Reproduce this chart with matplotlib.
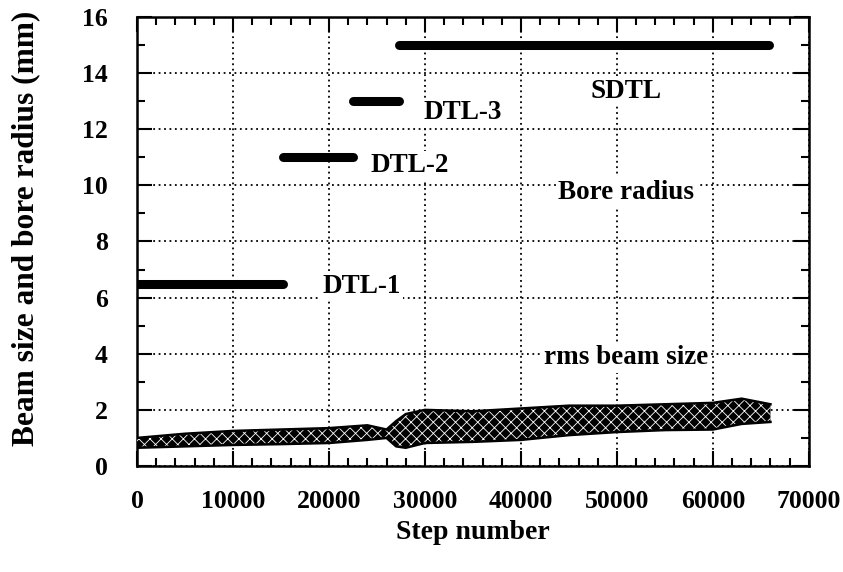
import matplotlib.pyplot as plt
from matplotlib.ticker import MultipleLocator

# bore radius per section: (start step, end step, radius mm)
sections = ["DTL-1", "DTL-2", "DTL-3", "SDTL"]
sec_start = [0, 15200, 22500, 27300]
sec_end = [15200, 22500, 27300, 65800]
bore_radius = [6.5, 11.0, 13.0, 15.0]

rms_steps = [0, 5000, 10000, 15000, 20000, 24000, 26000, 27000, 28000, 30000,
             35000, 40000, 45000, 50000, 55000, 60000, 63000, 66000]
rms_low = [0.65, 0.70, 0.75, 0.78, 0.82, 0.93, 1.00, 0.70, 0.65, 0.82,
           0.86, 0.93, 1.10, 1.21, 1.28, 1.30, 1.50, 1.57]
rms_high = [1.00, 1.15, 1.25, 1.30, 1.35, 1.45, 1.30, 1.60, 1.85, 2.00,
            1.95, 2.05, 2.15, 2.15, 2.20, 2.25, 2.40, 2.20]

plt.rcParams["font.family"] = ["Liberation Serif", "DejaVu Serif"]
plt.rcParams["font.weight"] = "bold"
plt.rcParams["hatch.linewidth"] = 0.6

fig = plt.figure(figsize=(8.43, 5.72), dpi=100)
ax = fig.add_axes([0.1625, 0.1853, 0.797, 0.785])

ax.fill_between(rms_steps, rms_low, rms_high, facecolor="black",
                edgecolor="white", hatch="xxx", linewidth=0, zorder=3)
ax.plot(rms_steps, rms_low, color="black", lw=1.8, zorder=3)
ax.plot(rms_steps, rms_high, color="black", lw=1.8, zorder=3)

for x0, x1, r in zip(sec_start, sec_end, bore_radius):
    ax.plot([x0, x1], [r, r], color="black", lw=6.5,
            solid_capstyle="round", zorder=4)

ax.set_xlim(0, 70000)
ax.set_ylim(0, 16)
ax.xaxis.set_major_locator(MultipleLocator(10000))
ax.xaxis.set_minor_locator(MultipleLocator(2000))
ax.yaxis.set_major_locator(MultipleLocator(2))
ax.yaxis.set_minor_locator(MultipleLocator(1))
ax.tick_params(which="both", direction="in", top=True, right=True,
               width=1.5, labelsize=18.5)
ax.tick_params(which="major", length=11)
ax.tick_params(which="minor", length=6)
ax.tick_params(axis="x", which="major", pad=17)
ax.tick_params(axis="y", which="major", pad=21)
for s in ax.spines.values():
    s.set_linewidth(1.8)

ax.grid(True, which="major", color="black", linestyle=(0, (1, 2)), lw=1.3)
ax.set_axisbelow(True)

ax.set_xlabel("Step number", fontsize=20, fontweight="bold")
ax.set_ylabel("Beam size and bore radius (mm)", fontsize=22.6,
              fontweight="bold")
ax.xaxis.set_label_coords(0.5, -0.12)
ax.yaxis.set_label_coords(-0.144, 0.53)

box = dict(facecolor="white", edgecolor="none", pad=1.5)
txt = dict(fontsize=19.5, fontweight="bold", bbox=box, zorder=5)
ax.text(50900, 13.36, "SDTL", ha="center", va="center", **txt)
ax.text(29800, 12.6, "DTL-3", ha="left", va="center", **txt)
ax.text(24300, 10.7, "DTL-2", ha="left", va="center", **txt)
ax.text(51000, 9.76, "Bore radius", ha="center", va="center", **txt)
ax.text(19300, 6.4, "DTL-1", ha="left", va="center", **txt)
ax.text(51000, 3.85, "rms beam size", ha="center", va="center", **txt)

fig.savefig("out.png", dpi=100)
